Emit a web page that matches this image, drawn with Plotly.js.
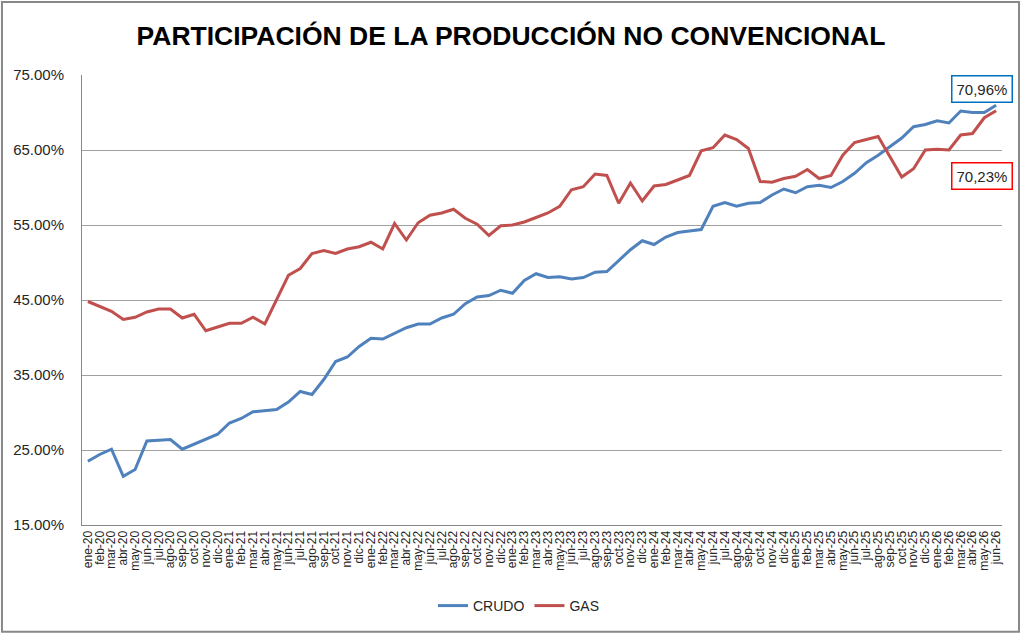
<!DOCTYPE html>
<html>
<head>
<meta charset="utf-8">
<script src="https://cdn.plot.ly/plotly-3.0.1.min.js"></script>
<style>
  body { margin: 0; background: #fff; }
  #chart { width: 1022px; height: 634px; }
</style>
</head>
<body>
<div id="chart"></div>
<script>
// month labels ene-20 .. jun-26
const meses = ['ene', 'feb', 'mar', 'abr', 'may', 'jun', 'jul', 'ago', 'sep', 'oct', 'nov', 'dic'];
const anios = ['20', '21', '22', '23', '24', '25', '26'];
const fechas = [];
anios.forEach(a => {
  meses.forEach((m, k) => {
    if (a === '26' && k > 5) return;
    fechas.push(m + '-' + a);
  });
});

// share of unconventional production, %
const crudo = [
  23.5, 24.4, 25.1, 21.5, 22.4, 26.2, 26.3, 26.4, 25.1, 25.8, 26.5, 27.1,
  28.6, 29.2, 30.1, 30.3, 30.4, 31.4, 32.8, 32.4, 34.4, 36.8, 37.4, 38.8,
  39.9, 39.8, 40.6, 41.3, 41.8, 41.8, 42.6, 43.1, 44.5, 45.4, 45.6, 46.3,
  45.9, 47.6, 48.5, 48.0, 48.1, 47.8, 48.0, 48.7, 48.8, 50.2, 51.7, 52.9,
  52.4, 53.4, 54.0, 54.2, 54.4, 57.5, 58.0, 57.5, 57.9, 58.0, 59.0, 59.8,
  59.3, 60.1, 60.3, 60.0, 60.8, 61.9, 63.3, 64.3, 65.5, 66.6, 68.1, 68.4,
  68.9, 68.6, 70.2, 70.0, 70.0, 70.96
];
const gas = [
  44.8, 44.1, 43.5, 42.4, 42.7, 43.4, 43.8, 43.8, 42.6, 43.1, 40.9, 41.4,
  41.9, 41.9, 42.7, 41.8, 45.0, 48.3, 49.2, 51.2, 51.6, 51.2, 51.8, 52.1,
  52.7, 51.8, 55.2, 53.0, 55.3, 56.3, 56.6, 57.1, 55.9, 55.1, 53.6, 54.9,
  55.0, 55.4, 56.0, 56.6, 57.5, 59.7, 60.1, 61.8, 61.6, 57.9, 60.6, 58.2,
  60.2, 60.4, 61.0, 61.6, 64.9, 65.3, 67.0, 66.4, 65.2, 60.8, 60.7, 61.2,
  61.5, 62.4, 61.2, 61.6, 64.3, 66.0, 66.4, 66.8, 64.1, 61.4, 62.5, 65.0,
  65.1, 65.0, 67.0, 67.2, 69.3, 70.23
];
const etiquetaCrudo = '70,96%';
const etiquetaGas = '70,23%';

const traces = [
  {x: fechas, y: crudo, name: 'CRUDO', type: 'scatter', mode: 'lines',
   line: {color: '#4F81BD', width: 3}},
  {x: fechas, y: gas, name: 'GAS', type: 'scatter', mode: 'lines',
   line: {color: '#C0504D', width: 3}}
];

const layout = {
  width: 1022, height: 634,
  margin: {l: 82, r: 20, t: 75, b: 109},
  paper_bgcolor: '#fff', plot_bgcolor: '#fff',
  font: {family: 'Liberation Sans, Arial, sans-serif', color: '#262626', size: 13},
  showlegend: true,
  title: {
    text: '<b>PARTICIPACIÓN DE LA PRODUCCIÓN NO CONVENCIONAL</b>',
    font: {family: 'Liberation Sans, Arial, sans-serif', size: 26.5, color: '#000'},
    x: 0.5, xanchor: 'center', y: 0.943, yanchor: 'middle'
  },
  xaxis: {
    type: 'category', range: [-0.5, fechas.length - 0.5],
    tickmode: 'linear', dtick: 1, tick0: 0,
    tickangle: -90, tickfont: {size: 12, color: '#262626'},
    showgrid: false, showline: true, linecolor: '#888', linewidth: 1,
    ticks: '', automargin: false
  },
  yaxis: {
    range: [15, 75], dtick: 10, tick0: 15,
    tickformat: '.2f', ticksuffix: '%',
    tickfont: {size: 15, color: '#262626'},
    showgrid: true, gridcolor: '#a0a0a0', gridwidth: 1,
    showline: true, linecolor: '#888', linewidth: 1,
    zeroline: false, ticks: '', ticklabelstandoff: 14, automargin: false
  },
  legend: {
    orientation: 'h', x: 0.475, xanchor: 'center', y: -0.18, yanchor: 'middle',
    font: {size: 14, color: '#262626'}
  },
  shapes: [
    {type: 'rect', xref: 'paper', yref: 'paper', x0: -0.087, x1: 1.0185, y0: -0.237, y1: 1.162,
     line: {color: '#888', width: 2}, fillcolor: 'rgba(0,0,0,0)'}
  ],
  annotations: [
    {x: 0.978, y: 73.1, xref: 'paper', yref: 'y', text: etiquetaCrudo, showarrow: false,
     xanchor: 'center', yanchor: 'middle', font: {size: 15, color: '#262626'},
     bordercolor: '#0070C0', borderwidth: 1.5, borderpad: 4, bgcolor: '#fff'},
    {x: 0.978, y: 61.6, xref: 'paper', yref: 'y', text: etiquetaGas, showarrow: false,
     xanchor: 'center', yanchor: 'middle', font: {size: 15, color: '#262626'},
     bordercolor: '#FF0000', borderwidth: 1.5, borderpad: 4, bgcolor: '#fff'}
  ]
};

Plotly.newPlot('chart', traces, layout, {displayModeBar: false, staticPlot: true});
</script>
</body>
</html>
